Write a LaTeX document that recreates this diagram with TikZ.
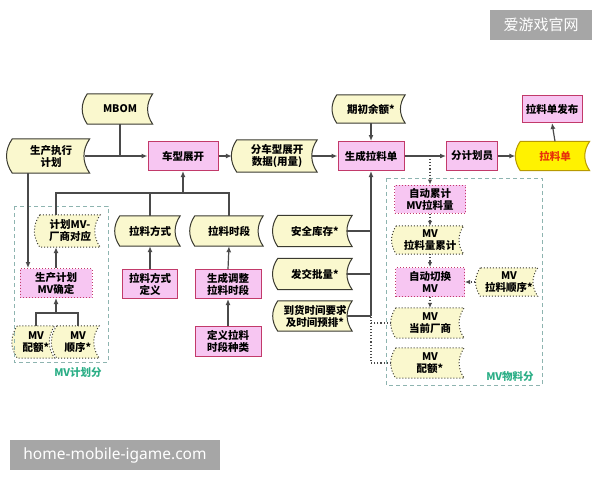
\documentclass[tikz,border=0pt]{standalone}
\usepackage{fontspec}
\setmainfont{Noto Sans CJK SC}
\newfontfamily\wmfont{Noto Sans}
\usetikzlibrary{arrows.meta, positioning, calc, backgrounds}

\definecolor{pinkfill}{HTML}{F7C6F2}
\definecolor{pinkline}{HTML}{C23A6A}
\definecolor{datfill}{HTML}{FAF8CE}
\definecolor{datline}{HTML}{3A3A30}
\definecolor{ylwfill}{HTML}{FFF200}
\definecolor{ylwline}{HTML}{B89A00}
\definecolor{ylwtext}{HTML}{E8320A}
\definecolor{grpline}{HTML}{8EB4B0}
\definecolor{grptext}{HTML}{2BAE86}
\definecolor{wmgray}{HTML}{A6A6A6}
\definecolor{linegray}{HTML}{4A4A4A}

\tikzset{
  boxtext/.style={inner sep=1pt, align=center, font=\bfseries\fontsize{10.5}{12}\selectfont},
  proc/.style={boxtext, draw=pinkline, fill=pinkfill, line width=1pt},
  procdot/.style={proc, dotted},
  dat/.style={boxtext},
  datshape/.style={draw=datline, fill=datfill, line width=1pt},
  datdotshape/.style={datshape, dotted},
  ylwshape/.style={draw=ylwline, fill=ylwfill, line width=1pt},
  grpbox/.style={draw=grpline, line width=0.8pt, dash pattern=on 4pt off 3pt},
  grplabel/.style={text=grptext, font=\bfseries\fontsize{10.5}{12}\selectfont},
  conn/.style={draw=linegray, line width=1.2pt},
  arr/.style={conn, -{Latex[length=6pt, width=5pt]}},
  conndot/.style={draw=linegray, line width=1.1pt, dotted},
  arrdot/.style={conndot, -{Latex[length=5pt, width=4.5pt]}},
  wmark/.style={fill=wmgray, text=white, inner sep=0pt},
}

% 数据框的形状 (左边外凸, 右边内凹)
\newcommand{\datpath}[2]{%
  \path[#1] (#2.north west) to[bend right=35] (#2.south west)
    -- (#2.south east) to[bend left=35] (#2.north east) -- cycle;}

\begin{document}
\begin{tikzpicture}[x=1pt, y=-1pt]
  \useasboundingbox (0,0) rectangle (600,480);

  % 分组框
  \draw[grpbox] (14,206) rectangle (108,362);
  \node[grplabel] (lbljh) at (78,373) {MV计划分};
  \draw[grpbox] (386,178) rectangle (542,385);
  \node[grplabel] (lblwl) at (510,377) {MV物料分};

  % 主线
  \node[dat, minimum width=65, minimum height=30] (mbom) at (120,109) {MBOM};
  \node[dat, minimum width=77, minimum height=34] (sczx) at (51,156) {生产执行\\计划};
  \node[proc, minimum width=70, minimum height=29] (cxzk) at (183,156) {车型展开};
  \node[dat, minimum width=80, minimum height=32] (fcx) at (277,156) {分车型展开\\数据(用量)};
  \node[proc, minimum width=66, minimum height=29] (sclld) at (371,156) {生成拉料单};
  \node[dat, minimum width=68, minimum height=28] (qcye) at (371,109) {期初余额*};
  \node[proc, minimum width=51, minimum height=29] (fjhy) at (472,156) {分计划员};
  \node[dat, minimum width=69, minimum height=29, text=ylwtext] (lld) at (555,156) {拉料单};
  \node[proc, minimum width=60, minimum height=27] (lldfb) at (552,109) {拉料单发布};

  % MV计划分
  \node[dat, minimum width=60, minimum height=32] (jhmv) at (70,231) {计划MV-\\厂商对应};
  \node[procdot, minimum width=72, minimum height=29] (scjh) at (56,283) {生产计划\\MV确定};
  \node[dat, minimum width=37, minimum height=32] (mvpe) at (36,342) {MV\\配额*};
  \node[dat, minimum width=42, minimum height=32] (mvsx) at (78,342) {MV\\顺序*};

  % 拉料方式 / 拉料时段
  \node[dat, minimum width=60, minimum height=30] (llfs) at (150,231) {拉料方式};
  \node[proc, minimum width=55, minimum height=29] (llfsdy) at (150,284) {拉料方式\\定义};
  \node[dat, minimum width=68, minimum height=30] (llsd) at (229,231) {拉料时段};
  \node[proc, minimum width=66, minimum height=29] (sctz) at (228,284) {生成调整\\拉料时段};
  \node[proc, minimum width=66, minimum height=30] (dysd) at (228,341) {定义拉料\\时段种类};

  % 参数
  \node[dat, minimum width=74, minimum height=31] (aqkc) at (315,231) {安全库存*};
  \node[dat, minimum width=74, minimum height=31] (fjpl) at (315,274) {发交批量*};
  \node[dat, minimum width=74, minimum height=30] (dhsj) at (315,316) {到货时间要求\\及时间预排*};

  % MV物料分
  \node[procdot, minimum width=71, minimum height=28] (zdlj) at (430,199) {自动累计\\MV拉料量};
  \node[dat, minimum width=67, minimum height=28] (mvljl) at (430,240) {MV\\拉料量累计};
  \node[procdot, minimum width=69, minimum height=29] (zdqh) at (430,282) {自动切换\\MV};
  \node[dat, minimum width=57, minimum height=28] (mvllsx) at (509,282) {MV\\拉料顺序*};
  \node[dat, minimum width=68, minimum height=30] (mvdq) at (430,323) {MV\\当前厂商};
  \node[dat, minimum width=68, minimum height=30] (mvpe2) at (430,363) {MV\\配额*};

  % 数据框形状
  \begin{scope}[on background layer]
    \foreach \n in {mbom, sczx, fcx, qcye, llfs, llsd, aqkc, fjpl, dhsj}
      {\datpath{datshape}{\n}}
    \foreach \n in {jhmv, mvpe, mvsx, mvljl, mvllsx, mvdq, mvpe2}
      {\datpath{datdotshape}{\n}}
    \datpath{ylwshape}{lld}
  \end{scope}

  % 连线 - 主线
  \draw[arr] ([xshift=-5pt]sczx.east) -- (cxzk.west);
  \draw[conn] (mbom.south) -- (mbom.south |- cxzk.west);
  \draw[arr] (cxzk.east) -- ([xshift=-5pt]fcx.west);
  \draw[arr] ([xshift=-5pt]fcx.east) -- (sclld.west);
  \draw[arr] (qcye.south) -- (sclld.north);
  \draw[arr] (sclld.east) -- (fjhy.west);
  \draw[arr] (fjhy.east) -- ([xshift=-5pt]lld.west);
  \draw[arr] (lld.north) -- (lldfb.south);

  % 连线 - 车型展开下方
  \coordinate (jtop) at (183,193);
  \draw[conn] (scjh.north |- jhmv.north) -- (scjh.north |- jtop) -- (llsd.north |- jtop) -- (llsd.north);
  \draw[conn] (llfs.north) -- (llfs.north |- jtop);
  \draw[arr] (jtop) -- (cxzk.south);
  \draw[arr] ([xshift=-23pt]sczx.south) -- ([xshift=-28pt]scjh.north);
  \draw[arr] (scjh.north) -- (scjh.north |- jhmv.south);
  \coordinate (jmv) at (56,313);
  \draw[conn] (mvpe.north) -- (mvpe.north |- jmv) -- (mvsx.north |- jmv) -- (mvsx.north);
  \draw[arr] (jmv) -- (scjh.south);
  \draw[arr] (llfsdy.north) -- (llfs.south);
  \draw[arr] (sctz.north) -- (llsd.south);
  \draw[arr] (dysd.north) -- (sctz.south);

  % 连线 - 生成拉料单下方
  \coordinate (jv) at (371,316);
  \draw[arr] (jv) -- (sclld.south);
  \draw[conn] ([xshift=-5pt]aqkc.east) -- (aqkc.east -| jv);
  \draw[conn] ([xshift=-5pt]fjpl.east) -- (fjpl.east -| jv);
  \draw[conn] ([xshift=-5pt]dhsj.east) -- (jv);
  \draw[conndot] ([xshift=-5pt]mvdq.west) -- (mvdq.west -| jv) -- (jv);
  \draw[conndot] ([xshift=-5pt]mvpe2.west) -- (mvpe2.west -| jv) -- (mvdq.west -| jv);

  % 连线 - MV物料分
  \coordinate (jd) at (zdlj.north |- sclld.east);
  \draw[arrdot] (jd) -- (zdlj.north);
  \draw[arrdot] (zdlj.south) -- (mvljl.north);
  \draw[arrdot] (mvljl.south) -- (zdqh.north);
  \draw[arrdot] (zdqh.south) -- (mvdq.north);
  \draw[arrdot] ([xshift=-5pt]mvllsx.west) -- (zdqh.east);

  % 水印
  \node[wmark, minimum width=102, minimum height=30, font=\fontsize{15}{18}\selectfont] (wmcn) at (541,25) {爱游戏官网};
  \node[wmark, minimum width=210, minimum height=30, font=\wmfont\fontsize{15.5}{18}\selectfont] (wmen) at (115,455) {home-mobile-igame.com};
\end{tikzpicture}
\end{document}
